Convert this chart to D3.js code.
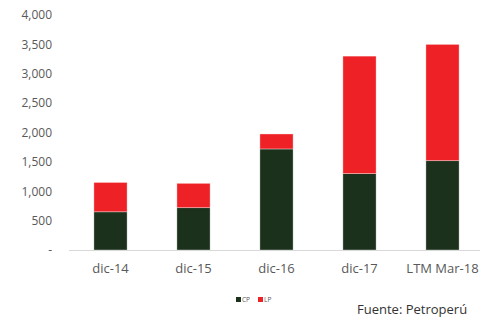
<!DOCTYPE html>
<html><head><meta charset="utf-8">
<script src="https://cdn.jsdelivr.net/npm/d3@7"></script>
<style>body{margin:0;background:#fff}svg{display:block}text{font-family:"Open Sans",sans-serif}</style>
</head><body><svg id="c" width="480" height="318"></svg>
<script>
const categories = ["dic-14","dic-15","dic-16","dic-17","LTM Mar-18"];
const cpValues = [650, 720, 1720, 1300, 1520];
const lpValues = [500, 415, 255, 2000, 1980];
const yTicks = [0,500,1000,1500,2000,2500,3000,3500,4000];
const seriesNames = ["CP","LP"];
const colors = ["#1b311b","#ee2226"];

const svg = d3.select("#c");
const x = d3.scaleBand().domain(categories).range([69,484]).paddingInner(0.6).paddingOuter(0.3);
const y = d3.scaleLinear().domain([0,4000]).range([250,15]);

const data = categories.map((c,i)=>({cat:c, CP:cpValues[i], LP:lpValues[i]}));
const stack = d3.stack().keys(seriesNames)(data);

svg.append("g").selectAll("g").data(stack).join("g")
  .attr("fill",(d,i)=>colors[i])
  .selectAll("rect").data(d=>d).join("rect")
  .attr("x",d=>x(d.data.cat)).attr("width",x.bandwidth())
  .attr("y",d=>y(d[1])).attr("height",d=>y(d[0])-y(d[1]))
  .attr("stroke","#ffffff").attr("stroke-opacity",0.5).attr("stroke-width",0.7);

// baseline
svg.append("line").attr("x1",69).attr("x2",484).attr("y1",y(0)+0.5).attr("y2",y(0)+0.5)
  .attr("stroke","#d9d9d9").attr("stroke-width",1);

// y axis labels
const yAxis = d3.axisLeft(y).tickValues(yTicks).tickSize(0).tickPadding(0)
  .tickFormat(d=> d===0 ? "-" : d3.format(",")(d));
const gy = svg.append("g").attr("transform","translate(52,0)").call(yAxis);
gy.select(".domain").remove();
gy.selectAll("text").attr("fill","#595959").style("font-size","12px").style("font-family","'Open Sans',sans-serif");

// x axis labels
const xAxis = d3.axisBottom(x).tickSize(0).tickPadding(0);
const gx = svg.append("g").attr("transform","translate(0,264)").call(xAxis);
gx.select(".domain").remove();
gx.selectAll("text").attr("fill","#595959").style("font-size","13px").style("font-family","'Open Sans',sans-serif");

// legend
const lg = svg.append("g").attr("transform","translate(236,297)");
seriesNames.forEach((n,i)=>{
  const gg = lg.append("g").attr("transform",`translate(${i*22},0)`);
  gg.append("rect").attr("width",5).attr("height",5).attr("fill",colors[i]);
  gg.append("text").attr("x",6).attr("y",5).attr("fill","#595959").style("font-size","6.5px").text(n);
});

svg.append("text").attr("x",357).attr("y",314).attr("fill","#333").style("font-size","13px").text("Fuente: Petroperú");
</script></body></html>
